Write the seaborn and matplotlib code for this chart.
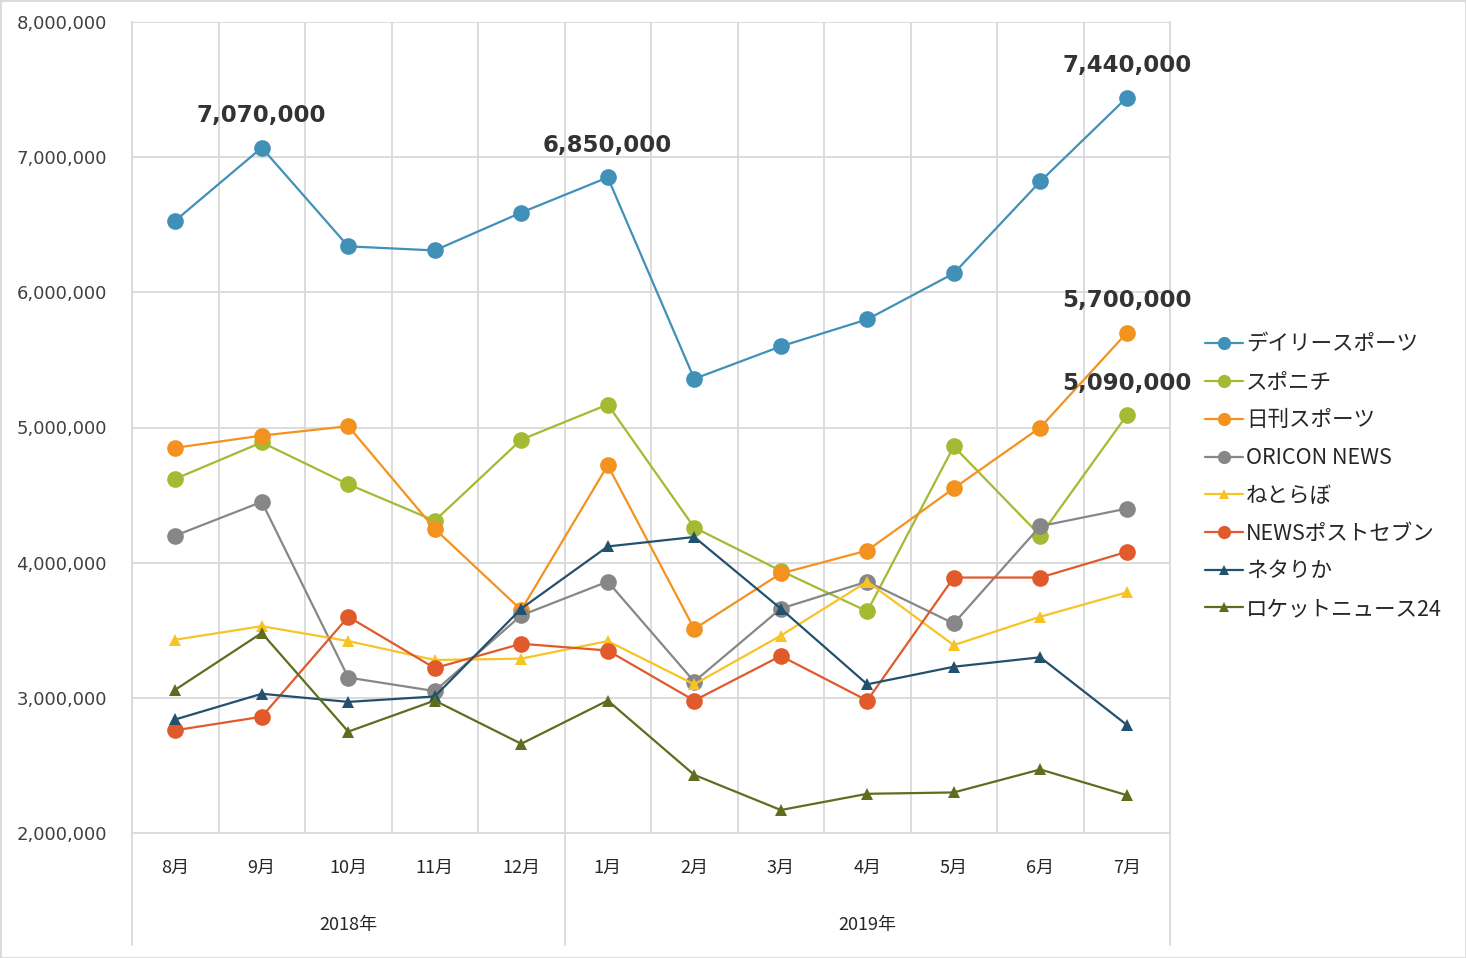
import numpy as np
import pandas as pd
import matplotlib.pyplot as plt
import seaborn as sns
from matplotlib.lines import Line2D
from matplotlib.patches import Rectangle
from matplotlib.ticker import FuncFormatter, MultipleLocator

# Monthly figures, Aug 2018 - Jul 2019
months = ["8月", "9月", "10月", "11月", "12月", "1月", "2月", "3月", "4月", "5月", "6月", "7月"]
years = ["2018年", "2019年"]
year_sizes = [5, 7]

series_names = ["デイリースポーツ", "スポニチ", "日刊スポーツ", "ORICON NEWS",
                "ねとらぼ", "NEWSポストセブン", "ネタりか", "ロケットニュース24"]

daily = [6530000, 7070000, 6340000, 6310000, 6590000, 6850000,
         5360000, 5600000, 5800000, 6140000, 6820000, 7440000]
sponichi = [4620000, 4890000, 4580000, 4310000, 4910000, 5170000,
            4260000, 3940000, 3640000, 4860000, 4200000, 5090000]
nikkan = [4850000, 4940000, 5010000, 4250000, 3650000, 4720000,
          3510000, 3920000, 4090000, 4550000, 5000000, 5700000]
oricon = [4200000, 4450000, 3150000, 3050000, 3610000, 3860000,
          3120000, 3660000, 3860000, 3550000, 4270000, 4400000]
netorabo = [3430000, 3530000, 3420000, 3280000, 3290000, 3420000,
            3100000, 3460000, 3860000, 3390000, 3600000, 3780000]
postseven = [2760000, 2860000, 3600000, 3220000, 3400000, 3350000,
             2980000, 3310000, 2980000, 3890000, 3890000, 4080000]
netarika = [2840000, 3030000, 2970000, 3010000, 3660000, 4120000,
            4190000, 3660000, 3100000, 3230000, 3300000, 2800000]
rocket = [3060000, 3480000, 2750000, 2980000, 2660000, 2980000,
          2430000, 2170000, 2290000, 2300000, 2470000, 2280000]

values = [daily, sponichi, nikkan, oricon, netorabo, postseven, netarika, rocket]
colors = ["#4190B8", "#A4BA32", "#F4921F", "#878787",
          "#F7C325", "#E05A2C", "#22506D", "#5E6D1E"]
markers = ["o", "o", "o", "o", "^", "o", "^", "^"]

# (series index, month index) of the bold value labels
callouts = [(0, 1), (0, 5), (0, 11), (2, 11), (1, 11)]

df = pd.DataFrame({
    "x": np.tile(np.arange(len(months)), len(series_names)),
    "value": np.concatenate(values),
    "series": np.repeat(series_names, len(months)),
})

sns.set_style("white")
plt.rcParams["font.family"] = ["Noto Sans CJK JP", "DejaVu Sans"]

fig = plt.figure(figsize=(14.66, 9.58), dpi=100)
ax = fig.add_axes([132 / 1466, 125 / 958, 1038 / 1466, 811 / 958])

grid_c = "#D9D9D9"
handles = []
for name, c, m in zip(series_names, colors, markers):
    ms = 12 if m == "o" else 8.5
    sns.lineplot(data=df[df["series"] == name], x="x", y="value", ax=ax,
                 color=c, marker=m, markersize=ms, markeredgewidth=0,
                 linewidth=1.6, legend=False, zorder=3)
    handles.append(Line2D([], [], color=c, marker=m, linewidth=1.6,
                          markersize=9.5 if m == "o" else 7.5, markeredgewidth=0))

ax.set_xlim(-0.5, len(months) - 0.5)
ax.set_ylim(2000000, 8000000)
ax.yaxis.set_major_locator(MultipleLocator(1000000))
ax.yaxis.set_major_formatter(FuncFormatter(lambda v, p: f"{int(v):,}"))
ax.set_xticks(np.arange(len(months)))
ax.set_xticklabels(months)
ax.set_xticks(np.arange(-0.5, len(months)), minor=True)
ax.grid(axis="y", color=grid_c, linewidth=1.3)
ax.grid(axis="x", which="minor", color=grid_c, linewidth=1.3)
ax.set_xlabel("")
ax.set_ylabel("")
ax.tick_params(axis="both", which="both", length=0)
ax.tick_params(axis="x", pad=19, labelsize=13, labelcolor="#262626")
ax.tick_params(axis="y", pad=18, labelsize=13, labelcolor="#404040")
for lab in ax.get_yticklabels():
    lab.set_family(["DejaVu Sans"])

ax.spines["top"].set_visible(False)
for side in ["left", "right", "bottom"]:
    ax.spines[side].set_color(grid_c)
    ax.spines[side].set_linewidth(1.3)

# category axis dividers below the plot
trans = ax.get_xaxis_transform()
start = 0
for xb in [-0.5, year_sizes[0] - 0.5, len(months) - 0.5]:
    ax.add_line(Line2D([xb, xb], [0, -0.138], transform=trans, color=grid_c,
                       linewidth=1.3, clip_on=False))
for label, size in zip(years, year_sizes):
    ax.text(start + (size - 1) / 2, -0.113, label, transform=trans,
            ha="center", va="center", fontsize=13, color="#262626")
    start += size

for si, mi in callouts:
    v = values[si][mi]
    ax.annotate(f"{v:,}", (mi, v), xytext=(0, 23), textcoords="offset points",
                ha="center", va="center", fontsize=16.5, fontweight="bold",
                color="#333333", family=["DejaVu Sans"])

fig.legend(handles, series_names, loc="center left",
           bbox_to_anchor=(1186 / 1466, 1 - 477 / 958), frameon=False,
           fontsize=15.5, handlelength=1.75, handletextpad=0.15, labelspacing=0.73)

fig.patches.append(Rectangle((0, 0), 1, 1, transform=fig.transFigure,
                             fill=False, edgecolor="#D9D9D9", linewidth=2))

fig.savefig("out.png", dpi=100)
